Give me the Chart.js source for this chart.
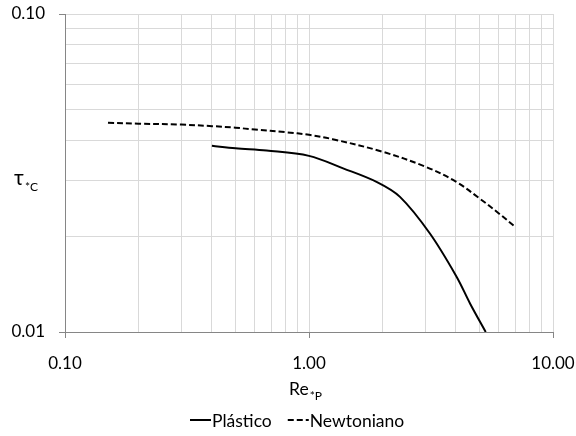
<!DOCTYPE html>
<html>
<head>
<meta charset="utf-8">
<script src="https://cdn.jsdelivr.net/npm/chart.js@4/dist/chart.umd.min.js"></script>
<style>
  html, body { margin: 0; padding: 0; background: #fff; }
  #wrap { width: 576px; height: 436px; position: relative; }
</style>
</head>
<body>
<div id="wrap"><canvas id="c" width="576" height="436"></canvas></div>
<script>
// ---- data ----
const plasticoRe  = [0.40, 0.50, 0.67, 1.00, 1.38, 1.90, 2.36, 3.13, 4.03, 4.57, 5.30];
const plasticoTau = [0.0385, 0.0378, 0.0372, 0.0358, 0.0327, 0.0296, 0.0266, 0.0204, 0.0149, 0.0123, 0.0100];
const newtonRe    = [0.15, 0.20, 0.30, 0.40, 0.50, 0.60, 0.80, 1.00, 1.25, 2.00, 3.00, 4.00, 5.00, 6.00, 7.00];
const newtonTau   = [0.0455, 0.0452, 0.0449, 0.0444, 0.0439, 0.0433, 0.0425, 0.0417, 0.0404, 0.0369, 0.0331, 0.0297, 0.0263, 0.0236, 0.0214];
const seriesNames = ['Plástico', 'Newtoniano'];
const xGridValues = [0.1,0.2,0.3,0.4,0.5,0.6,0.7,0.8,0.9,1,2,3,4,5,6,7,8,9,10];
const yGridValues = [0.01,0.02,0.03,0.04,0.05,0.06,0.07,0.08,0.09,0.1];
const xTickLabels = {0.1: '0.10', 1: '1.00', 10: '10.00'};
const yTickLabels = {0.01: '0.01', 0.1: '0.10'};

const FONT = 'Lato, "Open Sans", sans-serif';
const TEXT = '#000000';

function toPts(xs, ys) { return xs.map((x, i) => ({x: x, y: ys[i]})); }
function zeroPad(scale) { scale.paddingTop = 0; scale.paddingBottom = 0; scale.paddingLeft = 0; scale.paddingRight = 0; }

const titlesAndLegend = {
  id: 'titlesAndLegend',
  afterDraw(chart) {
    const ctx = chart.ctx;
    ctx.save();
    ctx.fillStyle = TEXT;
    ctx.textBaseline = 'alphabetic';
    ctx.textAlign = 'left';
    // y axis title  τ*C
    ctx.font = '21px ' + FONT;
    ctx.fillText('τ', 14, 185);
    ctx.font = '12px ' + FONT;
    ctx.fillText('*C', 25, 191);
    // x axis title Re*P
    ctx.font = '17.5px ' + FONT;
    ctx.fillText('Re', 289, 395);
    const w = ctx.measureText('Re').width;
    ctx.font = '12px ' + FONT;
    ctx.fillText('*P', 289 + w + 1, 400);
    // legend
    ctx.font = '17.5px ' + FONT;
    const items = chart.data.datasets;
    const sw = 21;
    const w0 = ctx.measureText(items[0].label).width;
    const w1 = ctx.measureText(items[1].label).width;
    const gap = 16;
    const total = sw + 1 + w0 + gap + sw + 1 + w1;
    let x = Math.round(chart.chartArea.left + (chart.chartArea.right - chart.chartArea.left) / 2 - total / 2) - 12;
    const ly = 420;
    items.forEach((ds, i) => {
      ctx.save();
      ctx.strokeStyle = ds.borderColor;
      ctx.lineWidth = 2;
      ctx.setLineDash(ds.borderDash || []);
      ctx.beginPath();
      ctx.moveTo(x, ly);
      ctx.lineTo(x + sw, ly);
      ctx.stroke();
      ctx.restore();
      ctx.fillText(ds.label, x + sw + 1, 427);
      x += sw + 1 + (i === 0 ? w0 : w1) + gap;
    });
    ctx.restore();
  }
};

new Chart(document.getElementById('c'), {
  type: 'scatter',
  data: {
    datasets: [
      {
        label: seriesNames[0],
        data: toPts(plasticoRe, plasticoTau),
        showLine: true,
        borderColor: '#000000',
        backgroundColor: '#000000',
        borderWidth: 2,
        pointRadius: 0,
        tension: 0.35,
        fill: false
      },
      {
        label: seriesNames[1],
        data: toPts(newtonRe, newtonTau),
        showLine: true,
        borderColor: '#000000',
        backgroundColor: '#000000',
        borderWidth: 2,
        borderDash: [6, 3],
        pointRadius: 0,
        tension: 0.35,
        fill: false
      }
    ]
  },
  options: {
    responsive: false,
    animation: false,
    devicePixelRatio: 1,
    layout: { padding: { left: 0, right: 23, top: 14, bottom: 0 } },
    plugins: {
      legend: { display: false },
      tooltip: { enabled: false },
      title: { display: false }
    },
    scales: {
      x: {
        type: 'logarithmic',
        min: 0.1, max: 10,
        afterBuildTicks(scale) { scale.ticks = xGridValues.map(v => ({value: v})); },
        afterFit(scale) { scale.height = 104; zeroPad(scale); },
        ticks: {
          autoSkip: false, maxRotation: 0, padding: 15,
          color: TEXT, font: { family: FONT, size: 17 },
          callback(v) { return xTickLabels[v] !== undefined ? xTickLabels[v] : ''; }
        },
        grid: {
          color: '#d9d9d9', lineWidth: 1, tickLength: 6,
          tickColor: c => (c.tick && xTickLabels[c.tick.value] !== undefined) ? '#868686' : 'rgba(0,0,0,0)'
        },
        border: { color: '#868686', width: 1 }
      },
      y: {
        type: 'logarithmic',
        min: 0.01, max: 0.1,
        afterBuildTicks(scale) { scale.ticks = yGridValues.map(v => ({value: v})); },
        afterFit(scale) { scale.width = 65; zeroPad(scale); },
        ticks: {
          autoSkip: false, padding: 14,
          color: TEXT, font: { family: FONT, size: 17 },
          callback(v) { const k = Math.round(v * 100) / 100; return yTickLabels[k] !== undefined ? yTickLabels[k] : ''; }
        },
        grid: {
          color: '#d9d9d9', lineWidth: 1, tickLength: 6,
          tickColor: c => { if (!c.tick) return 'rgba(0,0,0,0)'; const k = Math.round(c.tick.value * 100) / 100; return yTickLabels[k] !== undefined ? '#868686' : 'rgba(0,0,0,0)'; }
        },
        border: { color: '#868686', width: 1 }
      }
    }
  },
  plugins: [titlesAndLegend]
});
</script>
</body>
</html>
